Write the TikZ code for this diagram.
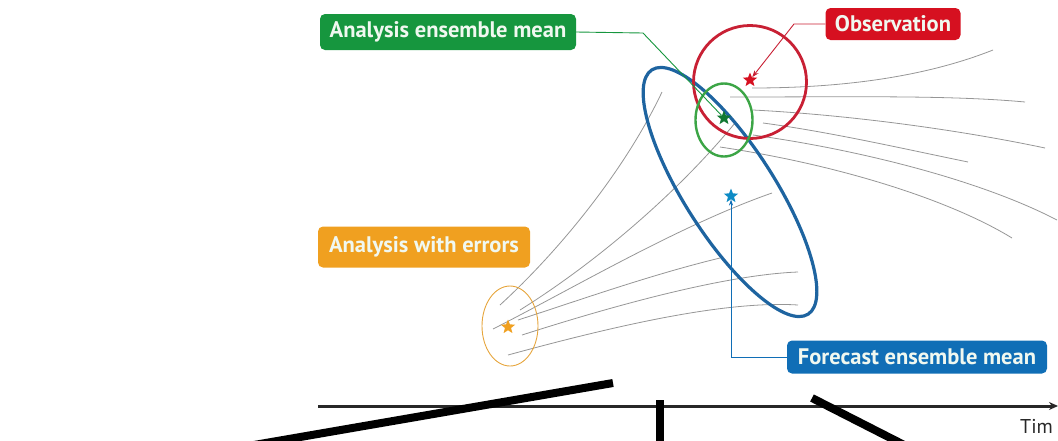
\documentclass[tikz,border=0pt]{standalone}
\usepackage{fontspec}
\setmainfont{PT Sans}
\usetikzlibrary{shapes.geometric,arrows.meta}
\definecolor{cgreen}{RGB}{22,150,62}
\definecolor{cgreenl}{RGB}{60,165,70}
\definecolor{cred}{RGB}{214,16,32}
\definecolor{credl}{RGB}{200,32,52}
\definecolor{corange}{RGB}{240,160,32}
\definecolor{corangel}{RGB}{230,165,60}
\definecolor{cblue}{RGB}{16,110,182}
\definecolor{cbluel}{RGB}{30,100,160}
\definecolor{cgray}{RGB}{150,150,150}
\definecolor{caxis}{RGB}{40,40,40}
\definecolor{ctext}{RGB}{240,248,240}
\tikzset{
  label box/.style={rounded corners=5pt, inner sep=0pt, text=ctext, font=\fontsize{22.5}{24}\selectfont\bfseries},
  member/.style={draw=cgray, line width=0.8pt},
  mstar/.style={star, star points=5, star point ratio=2.3, minimum size=15pt, inner sep=0pt},
  cut bar/.style={line width=8pt, black},
}
\begin{document}
\begin{tikzpicture}[x=1pt,y=-1pt]
\useasboundingbox (0,0) rectangle (1058,440);
% ensemble member trajectories (left fan)
\draw[member] (500,305) .. controls (560,250) and (625,170) .. (662,92);
\draw[member] (520,310) .. controls (600,260) and (680,190) .. (735,123);
\draw[member] (493,329) .. controls (570,290) and (680,225) .. (772,193);
\draw[member] (518,320) .. controls (580,300) and (650,275) .. (720,258);
\draw[member] (522,335) .. controls (600,310) and (720,275) .. (798,272);
\draw[member] (508,355) .. controls (600,330) and (720,300) .. (798,305);
% right fan
\draw[member] (752,88) .. controls (850,88) and (930,75) .. (993,50);
\draw[member] (730,97) .. controls (850,97) and (950,95) .. (1025,102);
\draw[member] (753,110) .. controls (850,115) and (960,130) .. (1045,148);
\draw[member] (763,123) .. controls (830,132) and (900,148) .. (968,162);
\draw[member] (753,135) .. controls (860,150) and (980,180) .. (1057,220);
\draw[member] (720,147) .. controls (840,165) and (950,200) .. (1012,238);
% ellipses
\node[ellipse, draw=corangel, line width=0.9pt, minimum width=56pt, minimum height=80pt, inner sep=0pt] (aerr) at (510,326) {};
\node[ellipse, draw=cbluel, line width=3.2pt, minimum width=290pt, minimum height=90pt, inner sep=0pt, rotate=-57.4] (fens) at (730,192) {};
\node[circle, draw=credl, line width=2.8pt, minimum size=113pt, inner sep=0pt] (ocirc) at (750,82) {};
\node[ellipse, draw=cgreenl, line width=2.4pt, minimum width=57pt, minimum height=73pt, inner sep=0pt] (aens) at (724,120) {};
% stars
\node[mstar, fill=corange] (ostar) at (508,327) {};
\node[mstar, fill=cgreen!80!black] (gstar) at (724,118) {};
\node[mstar, fill=cred] (rstar) at (750,80) {};
\node[mstar, fill=cblue!80!cyan] (bstar) at (731,196) {};
% label boxes
\node[label box, fill=cgreen, minimum width=256pt, minimum height=36pt] (gbox) at (448,32) {Analysis ensemble mean};
\node[label box, fill=cred, minimum width=135pt, minimum height=32pt] (obox) at (893,24) {Observation};
\node[label box, fill=corange, minimum width=212pt, minimum height=41pt] (abox) at (424,247) {Analysis with errors};
\node[label box, fill=cblue, minimum width=260pt, minimum height=33pt] (fbox) at (917,357) {Forecast ensemble mean};
% connectors
\coordinate (gcorner) at (643,33);
\coordinate (rcorner) at (794,24);
\coordinate (bcorner) at (731,357);
\draw[cgreen, line width=0.9pt] (gbox.east) -- (gcorner) -- (gstar);
\draw[credl, line width=0.9pt, -{Stealth[length=7pt,width=5pt]}] (obox.west) -- (rcorner) -- (rstar);
\draw[cblue, line width=1pt, -{Stealth[length=6pt,width=4pt]}] (fbox.west) -- (bcorner) -- (bstar);
% time axis
\coordinate (tstart) at (318,406);
\coordinate (tend) at (1058,406);
\draw[caxis, line width=3pt, -{Stealth[length=9pt,width=8pt]}] (tstart) -- (tend);
\node[anchor=base west, inner sep=0pt, text=caxis, font=\fontsize{20}{22}\selectfont] (tlabel) at (1020,433) {Tim};
% thick black bars
\draw[cut bar] (613,383) -- (225,450);
\draw[cut bar] (660,400) -- (660,450);
\draw[cut bar] (812,398) -- (914,450);
\end{tikzpicture}
\end{document}
